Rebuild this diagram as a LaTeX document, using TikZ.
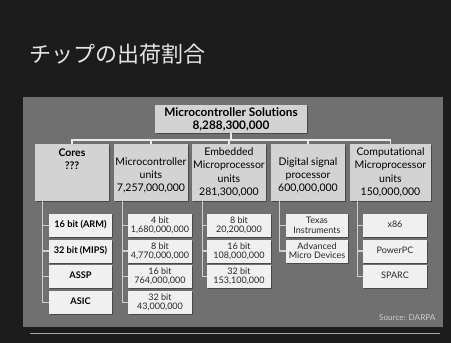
\documentclass[tikz,border=0pt]{standalone}
\usepackage{fontspec}
\setmainfont{Lato}[Ligatures={NoCommon,NoRequired,NoContextual}]
\newfontfamily\jpfont{Noto Sans CJK JP}
\usetikzlibrary{shadows}
\definecolor{bgc}{HTML}{1C1C1C}
\definecolor{panelc}{HTML}{707070}
\definecolor{boxa}{HTML}{D3D3D3}
\definecolor{boxb}{HTML}{F0F0F0}
\definecolor{linea}{HTML}{EAEAEA}
\definecolor{lineb}{HTML}{CFCFCF}
\newcommand{\bl}{\mbox{}}
\begin{document}
\begin{tikzpicture}[x=1pt,y=-1pt,
  shd/.style={drop shadow={shadow xshift=1pt,shadow yshift=-1pt,fill=black,opacity=0.35}},
  lvla/.style={shd,fill=boxa,inner sep=1pt,align=center,text=black,font=\fontsize{10.5}{13.4}\selectfont,minimum height=57pt,minimum width=74pt},
  lvlb/.style={shd,fill=boxb,inner sep=1pt,align=center,text=black!85,font=\fontsize{9}{9.4}\selectfont,minimum height=23pt,minimum width=64pt},
  bus/.style={draw=linea,line width=1.4pt},
  sub/.style={draw=lineb,line width=1.2pt}]
\path[fill=bgc] (0,0) rectangle (451,343);
\fill[panelc] (23,97) rectangle (443,327);
\draw[draw=black!35!white,line width=0.9pt] (30,333) -- (440,333);
\node[anchor=west,text=white!90!black,font=\jpfont\fontsize{22}{24}\selectfont] (title) at (26,54) {チップの出荷割合};
% top
\node[lvla,minimum width=152pt,minimum height=28pt,font=\bfseries\fontsize{11.8}{13}\selectfont] (top) at (231,119) {Microcontroller Solutions\\8,288,300,000};
% row 2
\node[lvla,font=\bfseries\fontsize{10.5}{13.4}\selectfont] (cores) at (72,172.5) {Cores\\???\\\bl\\\bl};
\node[lvla] (mcu) at (151,172.5) {\bl\\Microcontroller\\units\\7,257,000,000};
\node[lvla] (emb) at (229,172.5) {Embedded\\Microprocessor\\units\\281,300,000};
\node[lvla] (dsp) at (308,172.5) {\bl\\Digital signal\\processor\\600,000,000};
\node[lvla,minimum width=81pt] (comp) at (390.5,172.5) {Computational\\Microprocessor\\units\\150,000,000};
\coordinate (bj) at (231,140);
\draw[bus] (top.south) -- (bj);
\draw[bus] (cores.north) |- (bj) -| (comp.north);
\draw[bus] (mcu.north) -- (mcu.north |- bj);
\draw[bus] (emb.north) -- (emb.north |- bj);
\draw[bus] (dsp.north) -- (dsp.north |- bj);
% cores children
\begin{scope}[every node/.style={lvlb,minimum width=63pt,font=\bfseries\fontsize{9.2}{10}\selectfont,text=black}]
\node (c1) at (80.5,225.5) {\raisebox{2.5pt}{16 bit (ARM)}};
\node (c2) at (80.5,251) {\raisebox{2.5pt}{32 bit (MIPS)}};
\node (c3) at (80.5,276.5) {\raisebox{2.5pt}{ASSP}};
\node (c4) at (80.5,302.5) {\raisebox{2.5pt}{ASIC}};
\end{scope}
\foreach \k in {c1,c2,c3,c4} \draw[sub] ([xshift=8pt]cores.south west) |- (\k.west);
% mcu children
\node[lvlb] (m1) at (160,225.5) {4 bit\\1,680,000,000};
\node[lvlb] (m2) at (160,251) {8 bit\\4,770,000,000};
\node[lvlb] (m3) at (160,276.5) {16 bit\\764,000,000};
\node[lvlb] (m4) at (160,302.5) {32 bit\\43,000,000};
\foreach \k in {m1,m2,m3,m4} \draw[sub] ([xshift=9pt]mcu.south west) |- (\k.west);
% emb children
\node[lvlb] (e1) at (239,225.5) {8 bit\\20,200,000};
\node[lvlb] (e2) at (239,251) {16 bit\\108,000,000};
\node[lvlb] (e3) at (239,276.5) {32 bit\\153,100,000};
\foreach \k in {e1,e2,e3} \draw[sub] ([xshift=11pt]emb.south west) |- (\k.west);
% dsp children
\node[lvlb,minimum width=62pt] (d1) at (317,225.5) {Texas\\Instruments};
\node[lvlb,minimum width=62pt] (d2) at (317,251) {Advanced\\Micro Devices};
\foreach \k in {d1,d2} \draw[sub] ([xshift=9pt]dsp.south west) |- (\k.west);
% comp children
\node[lvlb] (p1) at (395,225.5) {\raisebox{2.5pt}{x86}};
\node[lvlb] (p2) at (395,251) {\raisebox{2.5pt}{PowerPC}};
\node[lvlb] (p3) at (395,276.5) {\raisebox{2.5pt}{SPARC}};
\foreach \k in {p1,p2,p3} \draw[sub] ([xshift=8pt]comp.south west) |- (\k.west);
\node[anchor=east,text=white!80!black,font=\fontsize{8.2}{9}\selectfont] (src) at (439,318) {Source: DARPA};
\end{tikzpicture}
\end{document}
